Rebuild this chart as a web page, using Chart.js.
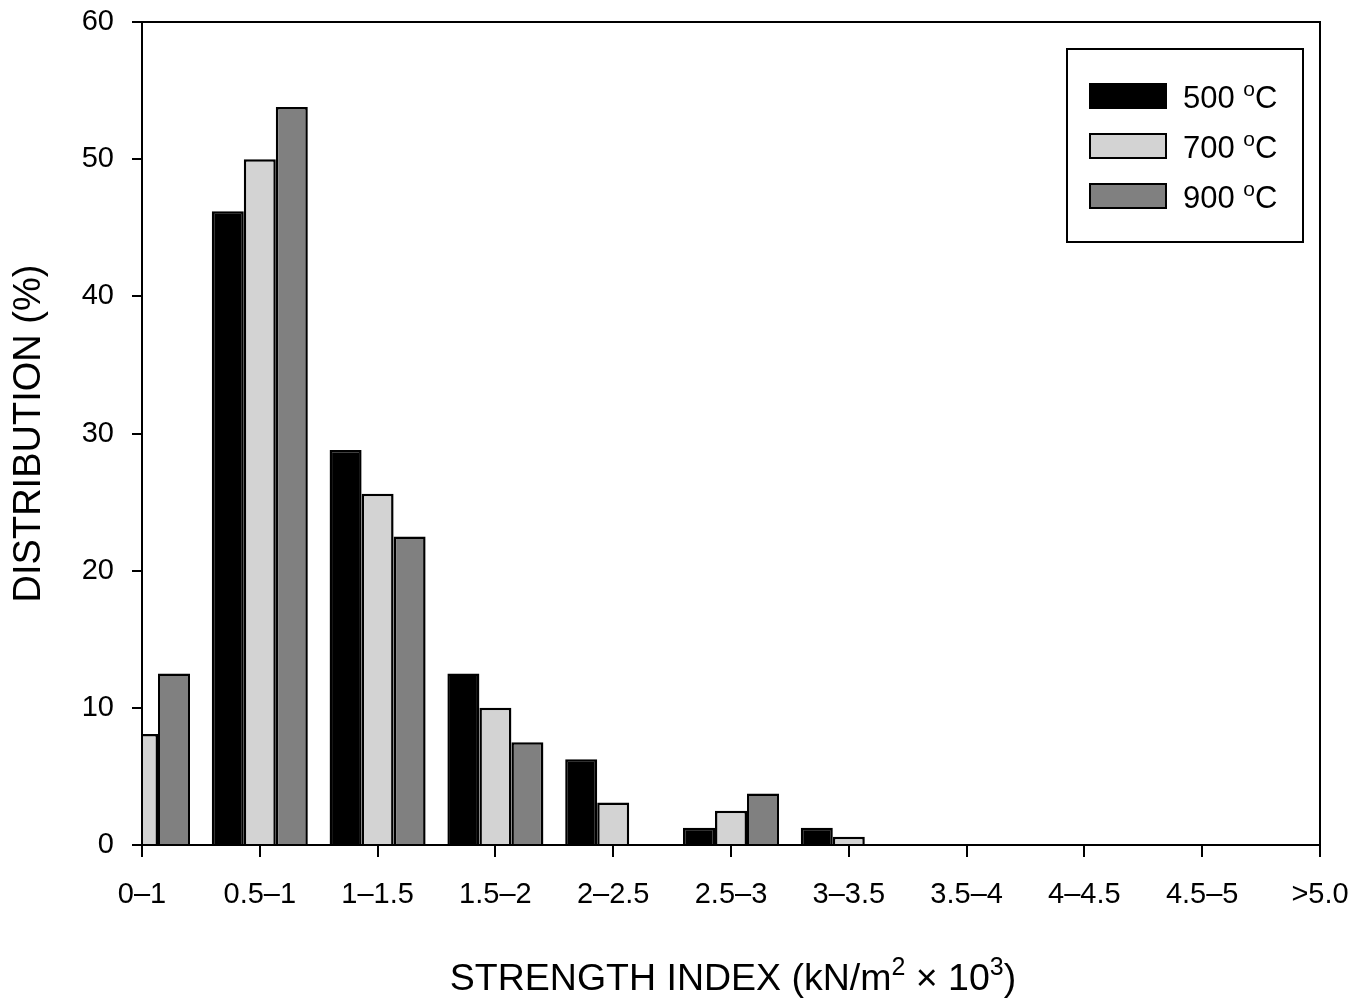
<!DOCTYPE html>
<html>
<head>
<meta charset="utf-8">
<script src="https://cdn.jsdelivr.net/npm/chart.js@4.4.1/dist/chart.umd.min.js"></script>
<style>
  body { margin: 0; background: #fff; }
  #wrap { width: 1348px; height: 1001px; }
</style>
</head>
<body>
<div id="wrap"><canvas id="myChart"></canvas></div>
<script>
const categories = ['0\u20131', '0.5\u20131', '1\u20131.5', '1.5\u20132', '2\u20132.5', '2.5\u20133', '3\u20133.5', '3.5\u20134', '4\u20134.5', '4.5\u20135', '>5.0'];
const series500 = [0, 46.2, 28.8, 12.5, 6.25, 1.25, 1.25, 0, 0, 0, 0];
const series700 = [8.1, 50, 25.6, 10, 3.1, 2.5, 0.6, 0, 0, 0, 0];
const series900 = [12.5, 53.8, 22.5, 7.5, 0, 3.75, 0, 0, 0, 0, 0];
const seriesNames = ['500', '700', '900'];
const seriesColors = ['#000000', '#d3d3d3', '#808080'];
const yTicks = [0, 10, 20, 30, 40, 50, 60];

const FONT = "'Liberation Sans', Arial, sans-serif";

// draws a list of [text, isSuperscript] pieces left to right
function drawRich(ctx, parts, x, y, size, supSize, rise) {
    parts.forEach(([txt, sup]) => {
        ctx.font = (sup ? supSize : size) + 'px ' + FONT;
        ctx.fillText(txt, x, sup ? y - rise : y);
        x += ctx.measureText(txt).width;
    });
    return x;
}
function richWidth(ctx, parts, size, supSize) {
    let w = 0;
    parts.forEach(([txt, sup]) => {
        ctx.font = (sup ? supSize : size) + 'px ' + FONT;
        w += ctx.measureText(txt).width;
    });
    return w;
}

// keep the label overhang from pushing the plot area around
function noPadding(scale) {
    scale.paddingTop = 0;
    scale.paddingBottom = 0;
    scale.paddingLeft = 0;
    scale.paddingRight = 0;
}

// box round the plot area, drawn over the bars
const framePlugin = {
    id: 'frame',
    afterDatasetsDraw(chart) {
        const { ctx, chartArea: a } = chart;
        ctx.save();
        ctx.strokeStyle = '#000';
        ctx.lineWidth = 2;
        ctx.strokeRect(a.left, a.top, a.right - a.left, a.bottom - a.top);
        ctx.restore();
    }
};

// x title with real superscripts
const xTitlePlugin = {
    id: 'xTitle',
    afterDraw(chart) {
        const ctx = chart.ctx;
        const a = chart.chartArea;
        const parts = [['STRENGTH INDEX (kN/m', false], ['2', true], [' \u00D7 10', false], ['3', true], [')', false]];
        ctx.save();
        ctx.fillStyle = '#000';
        ctx.textBaseline = 'alphabetic';
        const w = richWidth(ctx, parts, 37.5, 25);
        drawRich(ctx, parts, (a.left + a.right) / 2 - w / 2 + 2, 990, 37.5, 25, 15);
        ctx.restore();
    }
};

// boxed legend in the top right corner
const legendPlugin = {
    id: 'boxLegend',
    afterDraw(chart) {
        const ctx = chart.ctx;
        ctx.save();
        ctx.strokeStyle = '#000';
        ctx.lineWidth = 2;
        ctx.strokeRect(1067, 49, 236, 193);
        chart.data.datasets.forEach((ds, i) => {
            const y = 84 + i * 50;
            ctx.fillStyle = ds.backgroundColor;
            ctx.fillRect(1090, y, 76, 24);
            ctx.lineWidth = 2;
            ctx.strokeRect(1090, y, 76, 24);
            ctx.fillStyle = '#000';
            ctx.textBaseline = 'alphabetic';
            drawRich(ctx, [[ds.label + ' ', false], ['o', true], ['C', false]], 1183, y + 24, 31, 21, 12);
        });
        ctx.restore();
    }
};

new Chart(document.querySelector('#myChart'), {
    type: 'bar',
    data: {
        labels: categories,
        datasets: [
            { label: seriesNames[0], data: series500, backgroundColor: seriesColors[0] },
            { label: seriesNames[1], data: series700, backgroundColor: seriesColors[1] },
            { label: seriesNames[2], data: series900, backgroundColor: seriesColors[2] }
        ]
    },
    options: {
        responsive: true,
        maintainAspectRatio: false,
        animation: false,
        layout: { padding: { top: 22, right: 28, left: 0, bottom: 0 } },
        datasets: {
            bar: {
                borderColor: '#000',
                borderWidth: 2.5,
                categoryPercentage: 0.815,
                barPercentage: 1
            }
        },
        plugins: {
            legend: { display: false },
            tooltip: { enabled: false }
        },
        scales: {
            x: {
                offset: false,
                grid: { offset: false, drawOnChartArea: false, drawTicks: true, tickLength: 12, color: '#000', lineWidth: 2 },
                border: { display: true, color: '#000', width: 2 },
                ticks: { color: '#000', font: { family: FONT, size: 29 }, padding: 21, maxRotation: 0, autoSkip: false },
                afterFit(scale) { scale.height = 156; noPadding(scale); }
            },
            y: {
                min: 0,
                max: 60,
                afterBuildTicks(scale) { scale.ticks = yTicks.map(v => ({ value: v })); },
                grid: { drawOnChartArea: false, drawTicks: true, tickLength: 10, color: '#000', lineWidth: 2 },
                border: { display: true, color: '#000', width: 2 },
                ticks: { color: '#000', font: { family: FONT, size: 29 }, padding: 18 },
                title: {
                    display: true,
                    text: 'DISTRIBUTION (%)',
                    color: '#000',
                    font: { family: FONT, size: 38 },
                    padding: { top: 7, bottom: 0 }
                },
                afterFit(scale) { scale.width = 142; noPadding(scale); }
            }
        }
    },
    plugins: [framePlugin, xTitlePlugin, legendPlugin]
});
</script>
</body>
</html>
